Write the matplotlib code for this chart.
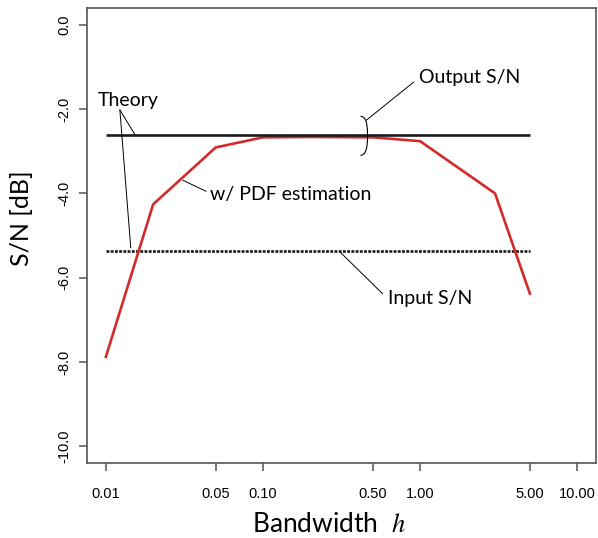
import matplotlib
matplotlib.use("Agg")
import matplotlib.pyplot as plt
from matplotlib.path import Path
from matplotlib.patches import PathPatch

plt.rcParams["mathtext.fontset"] = "stix"

# Data
bandwidth = [0.01, 0.02, 0.05, 0.1, 0.2, 0.5, 1.0, 3.0, 5.0]
sn_pdf = [-7.88, -4.26, -2.91, -2.67, -2.66, -2.67, -2.76, -4.0, -6.38]
theory_x = [0.01, 5.0]
output_sn = [-2.61, -2.61]
input_sn = [-5.36, -5.36]
xticks = [0.01, 0.05, 0.1, 0.5, 1.0, 5.0, 10.0]
xticklabels = ["0.01", "0.05", "0.10", "0.50", "1.00", "5.00", "10.00"]
yticks = [0.0, -2.0, -4.0, -6.0, -8.0, -10.0]
yticklabels = ["0.0", "-2.0", "-4.0", "-6.0", "-8.0", "-10.0"]

fig = plt.figure(figsize=(5.98, 5.38), dpi=100)
ax = fig.add_axes([0.1455, 0.1394, 0.8512, 0.8457])
ax.set_xscale("log")
ax.set_xlim(10 ** -2.12, 10 ** 1.12)
ax.set_ylim(-10.4, 0.4)

ax.plot(theory_x, output_sn, color="#1a1a1a", lw=1.9, zorder=3, solid_capstyle="butt")
ax.plot(bandwidth, sn_pdf, color="#d42a2a", lw=1.9, zorder=2.5)
ax.plot(theory_x, input_sn, color="#1a1a1a", lw=1.9, zorder=2, linestyle=(0, (1.1, 0.5)))

tickfont = {"family": "Liberation Sans", "size": 10.5}
ax.set_xticks(xticks)
ax.set_xticklabels(xticklabels, fontdict=tickfont)
ax.minorticks_off()
ax.set_yticks(yticks)
ax.set_yticklabels(yticklabels, fontdict=tickfont, rotation=90, va="center")
ax.tick_params(axis="x", length=6, width=1.1, color="#555555", pad=11)
ax.tick_params(axis="y", length=6, width=1.1, color="#555555", pad=5)
for s in ax.spines.values():
    s.set_color("#555555")
    s.set_linewidth(1.2)

labfont = "Lato"
ax.set_ylabel("S/N [dB]", fontsize=18, family=labfont)
ax.yaxis.set_label_coords(-0.128, 0.538)
ax.set_xlabel(r"Bandwidth  $h$", fontsize=19, family=labfont)
ax.xaxis.set_label_coords(0.475, -0.136)
ax.xaxis.label.set_va("center")
ax.yaxis.label.set_va("center")

afs = 14
# Theory
ax.text(0.0138, -1.79, "Theory", fontsize=afs, family=labfont, ha="center", va="center")
ax.plot([0.01228, 0.0153], [-2.02, -2.60], color="black", lw=0.7)
ax.plot([0.01228, 0.0144], [-2.02, -5.29], color="black", lw=0.7)
# Output S/N
ax.text(0.98, -1.24, "Output S/N", fontsize=afs, family=labfont, ha="left", va="center")
ax.plot([0.91, 0.456], [-1.36, -2.26], color="black", lw=0.7)
# brace
verts = [(0.418, -2.17), (0.45, -2.18), (0.463, -2.3), (0.463, -2.63),
         (0.463, -2.96), (0.45, -3.08), (0.418, -3.10)]
codes = [Path.MOVETO, Path.CURVE4, Path.CURVE4, Path.CURVE4,
         Path.CURVE4, Path.CURVE4, Path.CURVE4]
ax.add_patch(PathPatch(Path(verts, codes), fill=False, color="black", lw=0.8, zorder=4))
# w/ PDF estimation
ax.text(0.0461, -4.02, "w/ PDF estimation", fontsize=afs, family=labfont, ha="left", va="center")
ax.plot([0.031, 0.0434], [-3.69, -3.95], color="black", lw=0.7)
# Input S/N
ax.text(0.621, -6.5, "Input S/N", fontsize=afs, family=labfont, ha="left", va="center")
ax.plot([0.311, 0.577], [-5.40, -6.38], color="black", lw=0.7)

fig.savefig("out.png", dpi=100)
